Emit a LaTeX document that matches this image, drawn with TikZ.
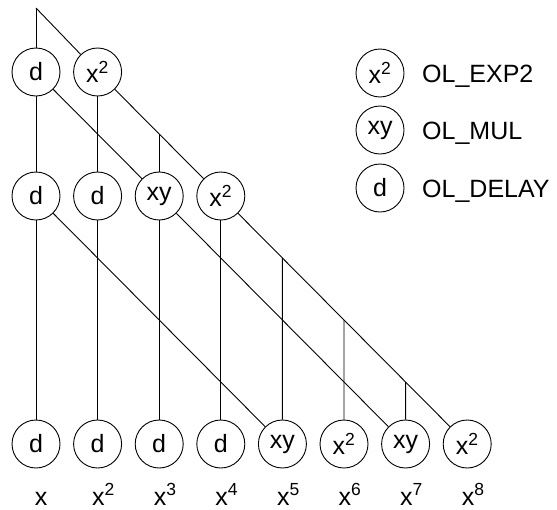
\documentclass[tikz,border=0pt]{standalone}
\usepackage{fontspec}
\setmainfont{Liberation Sans}
\usetikzlibrary{calc}
\begin{document}
\begin{tikzpicture}[x=1pt,y=-1pt,
  op/.style={draw, circle, minimum size=48pt, inner sep=0pt, line width=0.9pt,
             font=\fontsize{25}{29}\selectfont},
  lbl/.style={inner sep=0pt, font=\fontsize{25}{29}\selectfont},
  wire/.style={line width=0.9pt}]
\useasboundingbox (0,0) rectangle (557,509);

% input point
\coordinate (in) at (36,8);

% first stage
\node[op] (t0) at (36,72) {d};
\node[op] (t1) at (97.6,72) {x\textsuperscript{2}};

% second stage
\node[op] (m0) at (36,196) {d};
\node[op] (m1) at (97.6,196) {d};
\node[op] (m2) at (159.2,196) {xy};
\node[op] (m3) at (220.8,196) {x\textsuperscript{2}};

% output stage
\node[op] (b0) at (36,444) {d};
\node[op] (b1) at (97.6,444) {d};
\node[op] (b2) at (159.2,444) {d};
\node[op] (b3) at (220.8,444) {d};
\node[op] (b4) at (282.4,444) {xy};
\node[op] (b5) at (344,444) {x\textsuperscript{2}};
\node[op] (b6) at (405.6,444) {xy};
\node[op] (b7) at (467.2,444) {x\textsuperscript{2}};

% output labels
\node[lbl, anchor=base] (o1) at (41,505) {x};
\node[lbl, anchor=base] (o2) at (103.6,505) {x\textsuperscript{2}};
\node[lbl, anchor=base] (o3) at (165.2,505) {x\textsuperscript{3}};
\node[lbl, anchor=base] (o4) at (226.8,505) {x\textsuperscript{4}};
\node[lbl, anchor=base] (o5) at (288.4,505) {x\textsuperscript{5}};
\node[lbl, anchor=base] (o6) at (350,505) {x\textsuperscript{6}};
\node[lbl, anchor=base] (o7) at (411.6,505) {x\textsuperscript{7}};
\node[lbl, anchor=base] (o8) at (473.2,505) {x\textsuperscript{8}};

% taps on the long diagonals
\coordinate (p1) at ($(t1.center)!0.5!(m3.center)$);
\coordinate (q1) at ($(m3.center)!0.25!(b7.center)$);
\coordinate (q2) at ($(m3.center)!0.5!(b7.center)$);
\coordinate (q3) at ($(m3.center)!0.75!(b7.center)$);

\begin{scope}[wire]
  \draw (in) -- (t0);
  \draw (in) -- (t1);
  \draw (t0) -- (m0);
  \draw (t0) -- (m2);
  \draw (t1) -- (m1);
  \draw (t1) -- (m3);
  \draw (p1) -- (m2);
  \draw (m0) -- (b0);
  \draw (m0) -- (b4);
  \draw (m1) -- (b1);
  \draw (m2) -- (b2);
  \draw (m2) -- (b6);
  \draw (m3) -- (b3);
  \draw (m3) -- (b7);
  \draw (q1) -- (b4);
  \draw (q2) -- (b5);
  \draw (q3) -- (b6);
\end{scope}

% legend
\node[op] (k1) at (380,73) {x\textsuperscript{2}};
\node[op] (k2) at (380,130) {xy};
\node[op] (k3) at (380,188) {d};
\node[lbl, anchor=base west] (l1) at (422,82) {OL\_EXP2};
\node[lbl, anchor=base west] (l2) at (422,139) {OL\_MUL};
\node[lbl, anchor=base west] (l3) at (422,197) {OL\_DELAY};
\end{tikzpicture}
\end{document}
